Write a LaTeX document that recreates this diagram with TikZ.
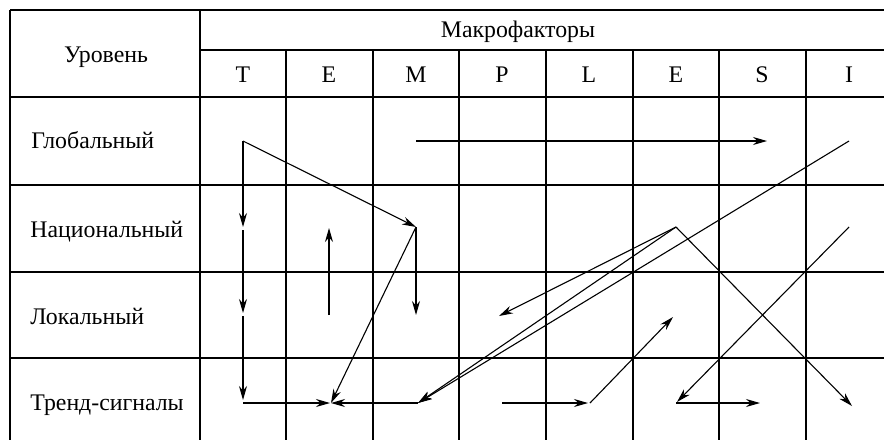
\documentclass[tikz,border=0pt]{standalone}
\usepackage{fontspec}
\setmainfont{Liberation Serif}
\usetikzlibrary{arrows.meta}

\tikzset{%
  grid line/.style={
    line width=0.8pt
  },
  flow/.style={
    ->,
    line width=0.55pt
  },
  row label/.style={
    anchor=base west,
    inner sep=0pt,
    font=\fontsize{11.9}{14}\selectfont
  },
  head label/.style={
    anchor=base,
    inner sep=0pt,
    font=\fontsize{11.9}{14}\selectfont
  },
}

\begin{document}
\begin{tikzpicture}[x=0.5pt, y={(0pt,-0.5pt)}, >={Stealth[length=7pt,width=4pt]}]
  \useasboundingbox (0,0) rectangle (884,440);
  % table grid
  \draw [grid line] (10,10) -- (884,10);
  \draw [grid line] (200,50) -- (884,50);
  \draw [grid line] (10,97) -- (884,97);
  \draw [grid line] (10,185) -- (884,185);
  \draw [grid line] (10,272) -- (884,272);
  \draw [grid line] (10,358) -- (884,358);
  \draw [grid line] (10,10) -- (10,440);
  \draw [grid line] (200,10) -- (200,440);
  \draw [grid line] (286,50) -- (286,440);
  \draw [grid line] (373,50) -- (373,440);
  \draw [grid line] (459,50) -- (459,440);
  \draw [grid line] (546,50) -- (546,440);
  \draw [grid line] (633,50) -- (633,440);
  \draw [grid line] (719,50) -- (719,440);
  \draw [grid line] (806,50) -- (806,440);
  % header
  \node [head label] (level) at (106,62) {Уровень};
  \node [head label] (macro) at (518,37) {Макрофакторы};
  \node [head label] (f-1) at (243,82) {T};
  \node [head label] (f-2) at (329,82) {E};
  \node [head label] (f-3) at (416,82) {M};
  \node [head label] (f-4) at (502,82) {P};
  \node [head label] (f-5) at (589,82) {L};
  \node [head label] (f-6) at (676,82) {E};
  \node [head label] (f-7) at (762,82) {S};
  \node [head label] (f-8) at (849,82) {I};
  \node [row label] (global) at (31,148) {Глобальный};
  \node [row label] (national) at (30,237) {Национальный};
  \node [row label] (local) at (30,324) {Локальный};
  \node [row label] (trend) at (30,410) {Тренд-сигналы};
  % cell points
  \coordinate (g-1) at (243,141);
  \coordinate (g-3) at (416,141);
  \coordinate (g-7) at (767,141);
  \coordinate (g-8) at (849,141);
  \coordinate (n-1) at (243,227);
  \coordinate (n-2) at (329,228);
  \coordinate (n-3) at (416,227);
  \coordinate (n-6) at (676,227);
  \coordinate (n-8) at (849,227);
  \coordinate (l-1) at (243,313);
  \coordinate (l-2) at (329,315);
  \coordinate (l-3) at (416,315);
  \coordinate (l-4) at (499,316);
  \coordinate (l-6) at (673,317);
  \coordinate (t-1) at (243,400);
  \coordinate (t-1r) at (243,403);
  \coordinate (t-2) at (330,403);
  \coordinate (t-2r) at (331,403);
  \coordinate (t-3) at (418,403);
  \coordinate (t-4) at (502,403);
  \coordinate (t-5) at (588,403);
  \coordinate (t-5r) at (590,403);
  \coordinate (t-6) at (677,402);
  \coordinate (t-6r) at (676,403);
  \coordinate (t-7) at (760,403);
  \coordinate (t-8) at (852,406);
\draw [flow] (g-1) -- (n-1);
\draw [flow, shorten <=1.5pt] (n-1) -- (l-1);
\draw [flow, shorten <=1.5pt] (l-1) -- (t-1);
\draw [flow] (t-1r) -- (t-2);
\draw [flow] (t-3) -- (t-2r);
\draw [flow] (g-1) -- (n-3);
\draw [flow] (n-3) -- (l-3);
\draw [flow] (n-3) -- (t-2r);
\draw [flow] (l-2) -- (n-2);
\draw [flow] (g-3) -- (g-7);
\draw [flow] (g-8) -- (t-3);
\draw [flow] (n-6) -- (t-3);
\draw [flow] (n-6) -- (l-4);
\draw [flow] (n-6) -- (t-8);
\draw [flow] (n-8) -- (t-6);
\draw [flow] (t-4) -- (t-5);
\draw [flow] (t-5r) -- (l-6);
\draw [flow] (t-6r) -- (t-7);
\end{tikzpicture}
\end{document}
